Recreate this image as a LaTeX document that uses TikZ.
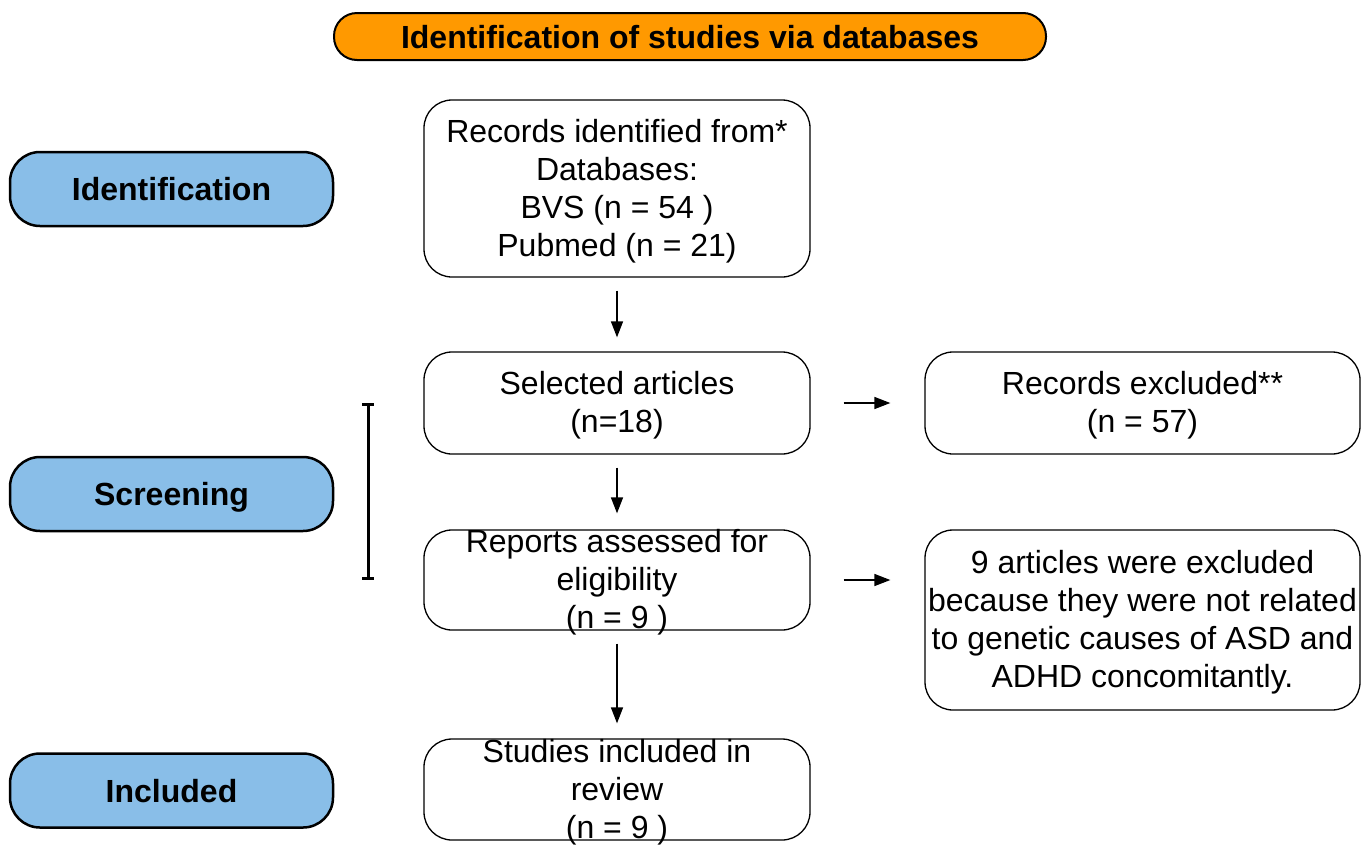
\documentclass[tikz,border=0pt]{standalone}
\usepackage{fontspec}
\setmainfont{Liberation Sans}
\usetikzlibrary{arrows.meta}
\definecolor{titleorange}{HTML}{FF9900}
\definecolor{phaseblue}{HTML}{89BEE8}
\begin{document}
\begin{tikzpicture}[x=1pt,y=-1pt,
 box/.style={draw, line width=1.3pt, rounded corners=28pt, inner sep=0pt},
 phase/.style={draw, line width=2.5pt, fill=phaseblue, rounded corners=30pt, minimum width=323pt, minimum height=74pt, inner sep=0pt, text height=23pt, text depth=0pt, font=\fontsize{32}{38}\selectfont\bfseries},
 txt/.style={align=center, font=\fontsize{32}{38}\selectfont, inner sep=0pt, yshift=-2.5pt},
 arr/.style={-{Triangle[length=16pt,width=12pt]}, line width=1.5pt},
]
\useasboundingbox (0,0) rectangle (1362,844);

\node[draw, line width=2pt, fill=titleorange, rounded corners=23pt, minimum width=712pt, minimum height=47pt, inner sep=0pt, text height=23pt, text depth=0pt, font=\fontsize{32}{36}\selectfont\bfseries] (title) at (690,36.5) {Identification of studies via databases};

\node[phase] (pid) at (171.5,189) {Identification};
\node[phase] (psc) at (171.5,494) {Screening};
\node[phase] (pin) at (171.5,790.5) {Included};

\node[box, minimum width=386pt, minimum height=177pt] (records) at (617,188.5) {};
\node[txt] (recordsT) at (records.center) {Records identified from*\\Databases:\\BVS (n = 54 )\\Pubmed (n = 21)};

\node[box, minimum width=386pt, minimum height=102pt] (selected) at (617,403) {};
\node[txt] (selectedT) at (selected.center) {Selected articles\\(n=18)};

\node[box, minimum width=435pt, minimum height=102pt] (excluded) at (1142.5,403) {};
\node[txt] (excludedT) at (excluded.center) {Records excluded**\\(n = 57)};

\node[box, minimum width=386pt, minimum height=100pt] (reports) at (617,580) {};
\node[txt] (reportsT) at (reports.center) {Reports assessed for\\eligibility\\(n = 9 )};

\node[box, minimum width=435pt, minimum height=180pt] (excl2) at (1142.5,620) {};
\node[txt] (excl2T) at (excl2.center) {9 articles were excluded\\because they were not related\\to genetic causes of ASD and\\ADHD concomitantly.};

\node[box, minimum width=386pt, minimum height=101pt] (studies) at (617,789.5) {};
\node[txt] (studiesT) at (studies.center) {Studies included in\\review\\(n = 9 )};

\draw[arr, shorten <=13pt, shorten >=14pt] (records) -- (selected);
\draw[arr, shorten <=13pt, shorten >=16pt] (selected) -- (reports);
\draw[arr, shorten <=13pt, shorten >=15pt] (reports) -- (studies);
\draw[arr, shorten <=33pt, shorten >=34pt] (selected) -- (excluded);
\draw[arr, shorten <=33pt, shorten >=34pt] (reports.east) -- (reports.east -| excl2.west);

\draw[line width=3pt] (362,404) -- (374,404) (368,404) -- (368,578) (362,578) -- (374,578);
\end{tikzpicture}
\end{document}
